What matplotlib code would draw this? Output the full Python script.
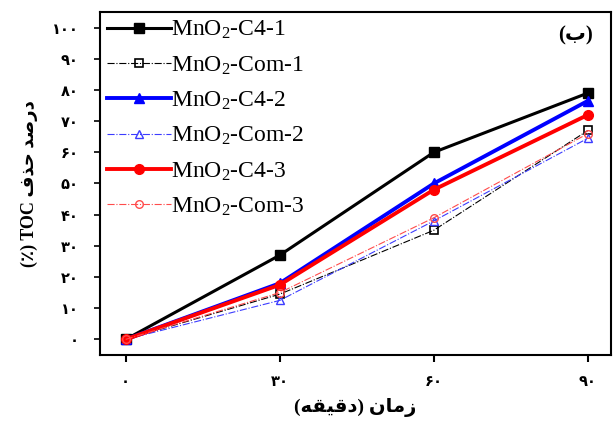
import matplotlib
matplotlib.use("Agg")
import matplotlib.pyplot as plt

# Removal data (TOC %) over time (minutes)
time_min = [0, 30, 60, 90]
c4_1 = [0, 27, 60, 79]
com_1 = [0, 14.5, 35, 67]
c4_2 = [0, 18, 50, 76.5]
com_2 = [0, 12.5, 38, 64.5]
c4_3 = [0, 17.5, 48, 72]
com_3 = [0, 15, 39, 66]

series_labels = [r"MnO$_2$-C4-1", r"MnO$_2$-Com-1", r"MnO$_2$-C4-2",
                 r"MnO$_2$-Com-2", r"MnO$_2$-C4-3", r"MnO$_2$-Com-3"]

x_ticks = [0, 30, 60, 90]
x_tick_labels = ["\u06f0", "\u06f3\u06f0", "\u06f6\u06f0", "\u06f9\u06f0"]
y_ticks = [0, 10, 20, 30, 40, 50, 60, 70, 80, 90, 100]
y_tick_labels = ["\u06f0", "\u06f1\u06f0", "\u06f2\u06f0", "\u06f3\u06f0", "\u06f4\u06f0",
                 "\u06f5\u06f0", "\u06f6\u06f0", "\u06f7\u06f0", "\u06f8\u06f0",
                 "\u06f9\u06f0", "\u06f1\u06f0\u06f0"]

# Persian labels, written in shaped presentation forms and visual order
x_label = "(" + "\uFEEA\uFED8\uFEF4\uFED7\uFEA9" + ") " + "\uFEE5\uFE8E\uFEE3\uFEAF"
y_label = "(\u066a) TOC " + "\uFED1\uFEAC\uFEA3" + " " + "\uFEAA\uFEBB\uFEAD\uFEA9"
panel_label = "(\uFE8F)"

plt.rcParams["mathtext.fontset"] = "custom"
plt.rcParams["mathtext.rm"] = "Liberation Serif"
plt.rcParams["mathtext.default"] = "regular"

fig = plt.figure(figsize=(6.14, 4.26), dpi=100)
ax = fig.add_axes([0.1629, 0.1667, 0.8321, 0.8051])

ax.plot(time_min, c4_1, color="black", lw=2.2, marker="s", ms=6.5, label=series_labels[0])
ax.plot(time_min, com_1, color="black", lw=0.8, ls="-.", marker="s", ms=5.5,
        mfc="none", mew=1.2, label=series_labels[1])
ax.plot(time_min, c4_2, color="#0000ff", lw=2.8, marker="^", ms=7, label=series_labels[2])
ax.plot(time_min, com_2, color="#3c3cff", lw=0.8, ls="-.", marker="^", ms=6,
        mfc="none", mew=1.0, label=series_labels[3])
ax.plot(time_min, c4_3, color="#ff0000", lw=2.8, marker="o", ms=7, label=series_labels[4])
ax.plot(time_min, com_3, color="#ff4c4c", lw=0.8, ls="-.", marker="o", ms=5.5,
        mfc="none", mew=1.0, label=series_labels[5])

ax.set_xlim(-5, 94.5)
ax.set_ylim(-5, 105)
ax.set_xticks(x_ticks)
ax.set_xticklabels(x_tick_labels)
ax.set_yticks(y_ticks)
ax.set_yticklabels(y_tick_labels)

for spine in ax.spines.values():
    spine.set_linewidth(1.5)

ax.tick_params(axis="x", direction="out", length=5, width=1.5, pad=9)
ax.tick_params(axis="y", direction="out", length=4.5, width=1.2, pad=11)
for lbl in ax.get_xticklabels() + ax.get_yticklabels():
    lbl.set_fontfamily("DejaVu Sans")
    lbl.set_fontweight("bold")
    lbl.set_fontsize(10.5)

ax.set_xlabel(x_label, family=["Liberation Serif", "DejaVu Sans"], fontweight="bold",
              fontsize=14, labelpad=6)
ax.set_ylabel(y_label, family=["Liberation Serif", "DejaVu Sans"], fontweight="bold",
              fontsize=13, labelpad=10)

ax.text(0.965, 0.96, panel_label, transform=ax.transAxes, ha="right", va="top",
        family=["Liberation Serif", "DejaVu Sans"], fontweight="bold", fontsize=15)

leg = ax.legend(loc="upper left", frameon=False, numpoints=1,
                prop={"family": "Liberation Serif", "size": 17},
                handlelength=2.7, handletextpad=0.0, labelspacing=0.55,
                borderaxespad=0.25, borderpad=0.05)

fig.savefig("out.png", dpi=100)
